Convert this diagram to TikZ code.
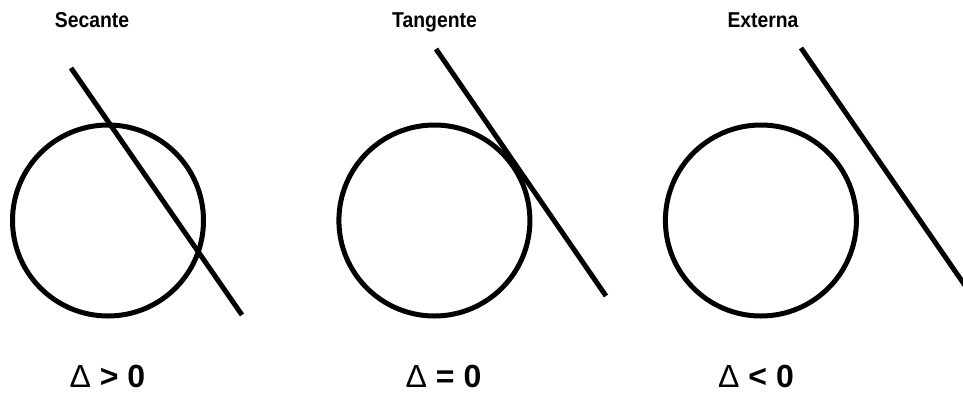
\documentclass[tikz,border=0pt]{standalone}
\usepackage{fontspec}
\setmainfont{Liberation Sans}
\newfontfamily\labfont[FakeStretch=0.9]{Liberation Sans}
\begin{document}
\begin{tikzpicture}[x=1pt,y=-1pt,
  circ/.style={circle,draw,line width=5pt,minimum size=191pt,inner sep=0pt},
  ln/.style={line width=5pt},
  toplab/.style={anchor=base,inner sep=0pt,font=\labfont\bfseries\fontsize{21.5}{24}\selectfont},
  dlab/.style={anchor=base,inner sep=0pt,font=\fontsize{32}{36}\selectfont}]
\useasboundingbox (0,0) rectangle (963,394);
\clip (0,0) rectangle (963,394);
% titles
\node[toplab] (t1) at (92,27.5) {Secante};
\node[toplab] (t2) at (434.5,27.5) {Tangente};
\node[toplab] (t3) at (763,27.5) {Externa};
% circles
\node[circ] (c1) at (108,220.5) {};
\node[circ] (c2) at (434.4,220.5) {};
\node[circ] (c3) at (760.9,220.5) {};
% lines
\coordinate (a1) at (71,68);
\coordinate (b1) at (242,315);
\coordinate (a2) at (436,49);
\coordinate (b2) at (606,296);
\coordinate (a3) at (801,48);
\coordinate (b3) at (975,300);
\draw[ln] (a1) -- (b1);
\draw[ln] (a2) -- (b2);
\draw[ln] (a3) -- (b3);
% delta labels
\node[dlab] (d1) at (107.5,387) {Δ \textbf{> 0}};
\node[dlab] (d2) at (443.5,387) {Δ \textbf{= 0}};
\node[dlab] (d3) at (756,387) {Δ \textbf{< 0}};
\end{tikzpicture}
\end{document}
